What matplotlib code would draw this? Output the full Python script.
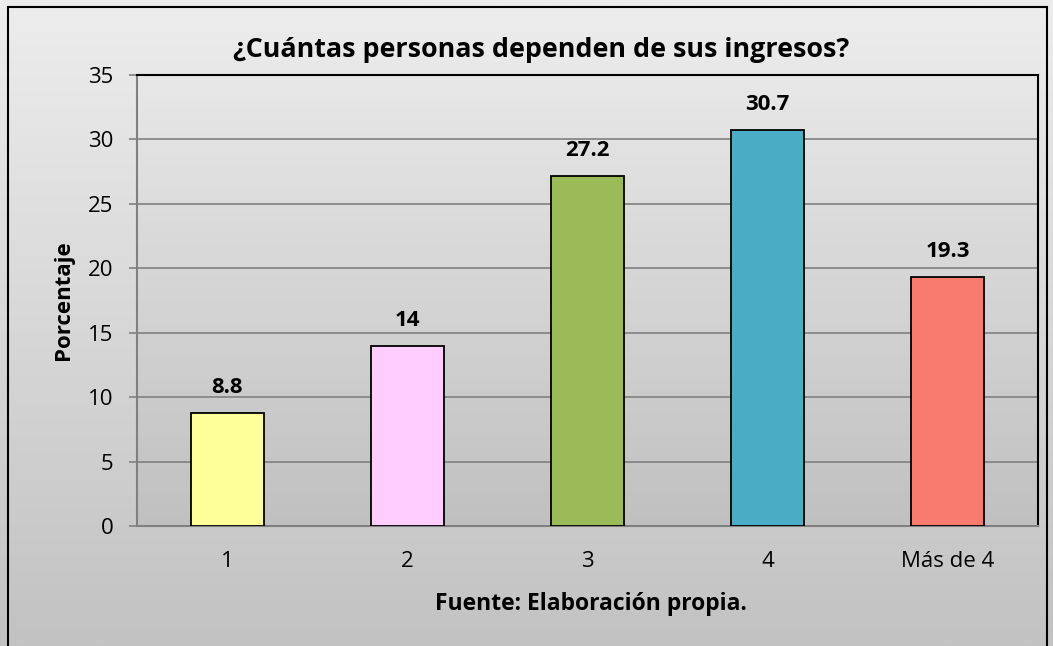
import numpy as np
import matplotlib.pyplot as plt
from matplotlib.colors import LinearSegmentedColormap
from matplotlib.patches import Rectangle

categories = ['1', '2', '3', '4', 'Más de 4']
values = [8.8, 14, 27.2, 30.7, 19.3]
labels = ['8.8', '14', '27.2', '30.7', '19.3']
colors = ['#FFFF99', '#FFCCFF', '#9BBB59', '#4BACC6', '#F97B6D']

plt.rcParams['font.family'] = ['Open Sans', 'DejaVu Sans']

fig = plt.figure(figsize=(10.53, 6.46), dpi=100)

# background gradient for the whole chart
bg = fig.add_axes([0, 0, 1, 1], zorder=-10)
grad = np.linspace(0, 1, 256).reshape(-1, 1)
bg.imshow(grad, aspect='auto', cmap=LinearSegmentedColormap.from_list('g', ['#EDEDED', '#C2C2C2']),
          extent=[0, 1, 0, 1], origin='upper')
bg.set_xlim(0, 1)
bg.set_ylim(0, 1)
bg.axis('off')
bg.add_patch(Rectangle((8 / 1053, -0.05), (1047 - 8) / 1053, 1 - 7 / 646 + 0.05,
                       fill=False, edgecolor='black', lw=1.5, clip_on=False))

ax = fig.add_axes([137 / 1053, 1 - 526 / 646, (1038 - 137) / 1053, (526 - 75) / 646])
ax.imshow(grad, aspect='auto', cmap=LinearSegmentedColormap.from_list('g2', ['#E8E8E8', '#C0C0C0']),
          extent=[-0.5, 4.5, 0, 35], origin='upper', zorder=0)

x = np.arange(len(categories))
ax.bar(x, values, width=0.405, color=colors, edgecolor='black', linewidth=1.3, zorder=3)
for xi, v, lab in zip(x, values, labels):
    ax.text(xi, v + 1.55, lab, ha='center', va='baseline', fontsize=16, fontweight='bold')

ax.set_xlim(-0.5, 4.5)
ax.set_ylim(0, 35)
ax.set_yticks(range(0, 36, 5))
ax.yaxis.grid(True, color='#808080', lw=1.2, zorder=1)
ax.set_axisbelow(True)
ax.set_xticks(x)
ax.set_xticklabels(categories, fontsize=16)
ax.tick_params(axis='y', labelsize=16, length=6, color='#808080', width=1.2, pad=11)
ax.tick_params(axis='x', length=0, pad=18)
for s in ['top', 'right']:
    ax.spines[s].set_color('black')
    ax.spines[s].set_linewidth(1.5)
for s in ['left', 'bottom']:
    ax.spines[s].set_color('#808080')
    ax.spines[s].set_linewidth(1.5)

fig.text(63 / 1053, 1 - 300 / 646, 'Porcentaje', rotation=90, ha='center', va='center',
         fontsize=16, fontweight='bold')
fig.text(591 / 1053, 1 - 604 / 646, 'Fuente: Elaboración propia.', ha='center', va='center',
         fontsize=16.5, fontweight='bold')
fig.text(541 / 1053, 1 - 50 / 646, '¿Cuántas personas dependen de sus ingresos?', ha='center',
         va='center', fontsize=19.4, fontweight='bold')

fig.savefig('out.png', dpi=100)
